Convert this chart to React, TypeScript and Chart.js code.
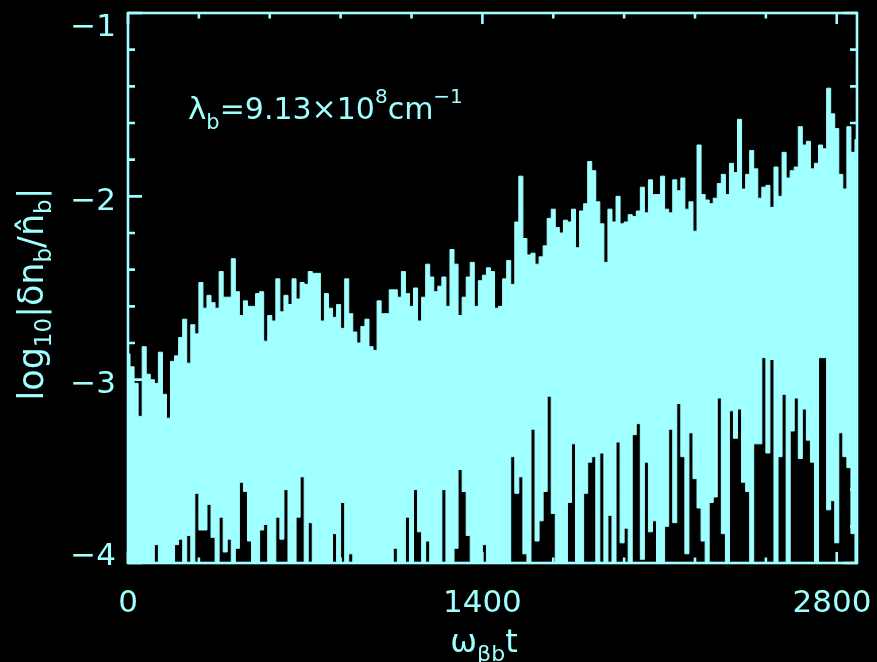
import { useEffect, useRef } from 'react';
import { Chart, registerables } from 'chart.js';

Chart.register(...registerables);

const CYAN = 'rgb(160,255,255)';
const FONT = '"DejaVu Sans", sans-serif';

// sampling interval of the stored series, in units of 1/ω_βb
const T_STEP = 16;

// largest log10|δn_b/n̂_b| reached within each sampling interval
const peakValues = [
  -2.86, -2.93, -3.02, -3.20, -2.82, -2.97, -3.00, -3.02, -2.85, -3.08,
  -3.21, -2.90, -2.87, -2.77, -2.67, -2.91, -2.70, -2.75, -2.47, -2.61,
  -2.54, -2.58, -2.61, -2.41, -2.55, -2.55, -2.34, -2.52, -2.65, -2.57,
  -2.60, -2.60, -2.53, -2.52, -2.79, -2.65, -2.68, -2.45, -2.63, -2.54,
  -2.59, -2.45, -2.56, -2.47, -2.48, -2.41, -2.42, -2.42, -2.68, -2.53,
  -2.61, -2.66, -2.59, -2.72, -2.45, -2.64, -2.74, -2.80, -2.71, -2.67,
  -2.82, -2.84, -2.57, -2.64, -2.64, -2.51, -2.51, -2.55, -2.41, -2.53,
  -2.60, -2.50, -2.68, -2.55, -2.37, -2.44, -2.52, -2.49, -2.44, -2.60,
  -2.29, -2.37, -2.65, -2.55, -2.44, -2.36, -2.60, -2.46, -2.43, -2.39,
  -2.41, -2.61, -2.60, -2.45, -2.35, -2.48, -2.14, -1.89, -2.23, -2.32,
  -2.31, -2.37, -2.33, -2.27, -2.12, -2.07, -2.17, -2.20, -2.13, -2.14,
  -2.07, -2.28, -2.08, -2.04, -1.81, -1.86, -2.03, -2.15, -2.36, -2.07,
  -2.14, -2.00, -2.15, -2.14, -2.10, -2.11, -2.08, -1.95, -2.09, -1.91,
  -1.99, -1.99, -1.89, -2.07, -2.09, -1.91, -1.97, -1.90, -2.07, -2.03,
  -2.19, -1.72, -1.99, -2.02, -2.04, -2.01, -1.93, -1.88, -1.99, -1.82,
  -1.87, -1.58, -1.96, -1.88, -1.75, -1.85, -2.01, -1.95, -1.94, -2.06,
  -1.84, -2.00, -1.76, -1.90, -1.86, -1.84, -1.62, -1.72, -1.70, -1.85,
  -1.82, -1.72, -1.74, -1.41, -1.55, -1.63, -1.88, -1.96, -1.62, -1.76,
  -1.69,
];

// smallest value within each sampling interval (-4 = off the bottom of the axis)
const troughValues = [
  -4, -4, -4, -4, -4, -4, -4, -3.90, -4, -4,
  -4, -4, -3.90, -3.87, -4, -3.85, -4, -3.62, -3.82, -3.82,
  -3.68, -3.86, -4, -3.75, -3.94, -3.87, -4, -3.92, -3.56, -3.61,
  -3.88, -4, -4, -3.82, -3.79, -4, -4, -3.75, -3.87, -3.60,
  -4, -4, -3.75, -3.53, -4, -3.78, -4, -4, -4, -4,
  -4, -3.84, -4, -3.67, -4, -3.95, -4, -4, -4, -4,
  -4, -4, -4, -4, -4, -4, -3.92, -4, -4, -3.75,
  -4, -3.60, -3.83, -4, -3.88, -4, -4, -4, -3.60, -4,
  -4, -3.92, -3.49, -3.61, -3.85, -4, -4, -4, -3.90, -4,
  -4, -4, -4, -4, -4, -3.42, -3.62, -3.53, -3.95, -4,
  -3.27, -3.88, -3.77, -3.61, -3.09, -3.73, -4, -4, -4, -3.67,
  -3.35, -4, -4, -3.62, -3.45, -3.42, -4, -3.40, -4, -3.74,
  -4, -3.34, -3.89, -3.81, -4, -3.30, -3.24, -3.98, -3.45, -3.83,
  -3.77, -4, -4, -3.80, -3.27, -3.78, -3.13, -3.42, -3.95, -3.29,
  -3.54, -3.70, -3.88, -4, -3.67, -3.64, -3.10, -3.84, -4, -3.17,
  -3.32, -3.16, -3.56, -3.61, -4, -3.35, -3.35, -2.88, -3.40, -2.89,
  -4, -3.42, -3.08, -4, -3.28, -3.10, -3.43, -3.16, -3.33, -3.45,
  -4, -2.88, -2.88, -3.71, -3.66, -3.89, -3.29, -3.42, -3.48, -3.84,
  -4,
];

const X_MIN = 0;
const X_MAX = 2880;
const Y_MIN = -4;
const Y_MAX = -1;

const xTicks = [0, 280, 560, 840, 1120, 1400, 1680, 1960, 2240, 2520, 2800];
const xLabelled = [0, 1400, 2800];
const yTicks = [-4, -3.8, -3.6, -3.4, -3.2, -3, -2.8, -2.6, -2.4, -2.2, -2, -1.8, -1.6, -1.4, -1.2, -1];
const yLabelled = [-4, -3, -2, -1];

type Run = { text: string; size: number; dy?: number };

const yTitle: Run[] = [
  { text: 'log', size: 35 },
  { text: '10', size: 23, dy: 8 },
  { text: '|\u03b4n', size: 35 },
  { text: 'b', size: 23, dy: 8 },
  { text: '/n\u0302', size: 35 },
  { text: 'b', size: 23, dy: 8 },
  { text: '|', size: 35 },
];

const xTitle: Run[] = [
  { text: '\u03c9', size: 32 },
  { text: '\u03b2b', size: 22, dy: 9 },
  { text: 't', size: 32 },
];

const annotation: Run[] = [
  { text: '\u03bb', size: 31 },
  { text: 'b', size: 21, dy: 10 },
  { text: '=9.13\u00d710', size: 30 },
  { text: '8', size: 20, dy: -16 },
  { text: 'cm', size: 30 },
  { text: '\u22121', size: 20, dy: -16 },
];

function drawRuns(ctx: CanvasRenderingContext2D, runs: Run[], x: number, y: number, align: 'left' | 'center') {
  let width = 0;
  for (const r of runs) {
    ctx.font = `${r.size}px ${FONT}`;
    width += ctx.measureText(r.text).width;
  }
  let cx = align === 'center' ? x - width / 2 : x;
  ctx.textAlign = 'left';
  ctx.textBaseline = 'alphabetic';
  for (const r of runs) {
    ctx.font = `${r.size}px ${FONT}`;
    ctx.fillText(r.text, cx, y + (r.dy ?? 0));
    cx += ctx.measureText(r.text).width;
  }
}

const fmt = (v: number) => (v < 0 ? '\u2212' + Math.abs(v) : String(v));

const framePlugin = {
  id: 'idlFrame',
  afterDatasetsDraw(chart: any) {
    const { ctx, chartArea: a, scales } = chart;
    const xs = scales.x;
    const ys = scales.y;
    ctx.save();
    ctx.strokeStyle = CYAN;
    ctx.fillStyle = CYAN;
    ctx.lineWidth = 2.6;
    ctx.lineCap = 'butt';
    ctx.strokeRect(a.left, a.top, a.right - a.left, a.bottom - a.top);

    ctx.beginPath();
    for (const t of ys.ticks) {
      const y = ys.getPixelForValue(t.value);
      const len = yLabelled.includes(t.value) ? 14 : 7;
      ctx.moveTo(a.left, y);
      ctx.lineTo(a.left + len, y);
      ctx.moveTo(a.right, y);
      ctx.lineTo(a.right - len, y);
    }
    for (const t of xs.ticks) {
      const x = xs.getPixelForValue(t.value);
      const len = xLabelled.includes(t.value) ? 11 : 5.5;
      ctx.moveTo(x, a.bottom);
      ctx.lineTo(x, a.bottom - len);
      ctx.moveTo(x, a.top);
      ctx.lineTo(x, a.top + len);
    }
    ctx.stroke();

    // tick labels
    ctx.font = `31px ${FONT}`;
    ctx.textBaseline = 'alphabetic';
    ctx.textAlign = 'right';
    for (const v of yLabelled) {
      const py = ys.getPixelForValue(v);
      const base = Math.min(Math.max(py + 13.5, a.top + 22.5), a.bottom + 2);
      ctx.fillText(fmt(v), 116, base);
    }
    ctx.textAlign = 'center';
    for (const v of xLabelled) {
      const px = xs.getPixelForValue(v);
      ctx.fillText(fmt(v), Math.min(px, a.right - 25), 612);
    }

    // axis titles and annotation
    drawRuns(ctx, xTitle, 484, 652, 'center');
    drawRuns(ctx, annotation, 188, 119, 'left');
    ctx.save();
    ctx.translate(43, 294);
    ctx.rotate(-Math.PI / 2);
    drawRuns(ctx, yTitle, 0, 0, 'center');
    ctx.restore();

    ctx.restore();
  },
};

export default function App() {
  const canvasRef = useRef<HTMLCanvasElement | null>(null);

  useEffect(() => {
    document.body.style.margin = '0';
    document.body.style.background = '#000';
    const canvas = canvasRef.current;
    if (!canvas) return;

    const times = peakValues.map((_, i) => X_MIN + i * T_STEP);
    const lower = troughValues.map((v, i) => ({ x: times[i], y: v }));
    const upper = peakValues.map((v, i) => ({ x: times[i], y: v }));

    const chart = new Chart(canvas, {
      type: 'line',
      data: {
        datasets: [
          {
            label: 'min',
            data: lower,
            borderColor: CYAN,
            borderWidth: 1,
            pointRadius: 0,
            stepped: 'middle',
            fill: false,
          },
          {
            label: 'max',
            data: upper,
            borderColor: CYAN,
            backgroundColor: CYAN,
            borderWidth: 1,
            pointRadius: 0,
            stepped: 'middle',
            fill: '-1',
          },
        ],
      },
      options: {
        animation: false,
        responsive: false,
        devicePixelRatio: 1,
        layout: { padding: { left: 128, top: 13, right: 20, bottom: 99 } },
        plugins: {
          legend: { display: false },
          tooltip: { enabled: false },
        },
        scales: {
          x: {
            type: 'linear',
            display: false,
            min: X_MIN,
            max: X_MAX,
            afterBuildTicks: (scale: any) => {
              scale.ticks = xTicks.map((value) => ({ value }));
            },
          },
          y: {
            type: 'linear',
            display: false,
            min: Y_MIN,
            max: Y_MAX,
            afterBuildTicks: (scale: any) => {
              scale.ticks = yTicks.map((value) => ({ value }));
            },
          },
        },
      },
      plugins: [framePlugin],
    });

    return () => chart.destroy();
  }, []);

  return (
    <div style={{ position: 'fixed', left: 0, top: 0, width: 877, height: 662, background: '#000' }}>
      <canvas ref={canvasRef} width={877} height={662} style={{ display: 'block', width: 877, height: 662 }} />
    </div>
  );
}
